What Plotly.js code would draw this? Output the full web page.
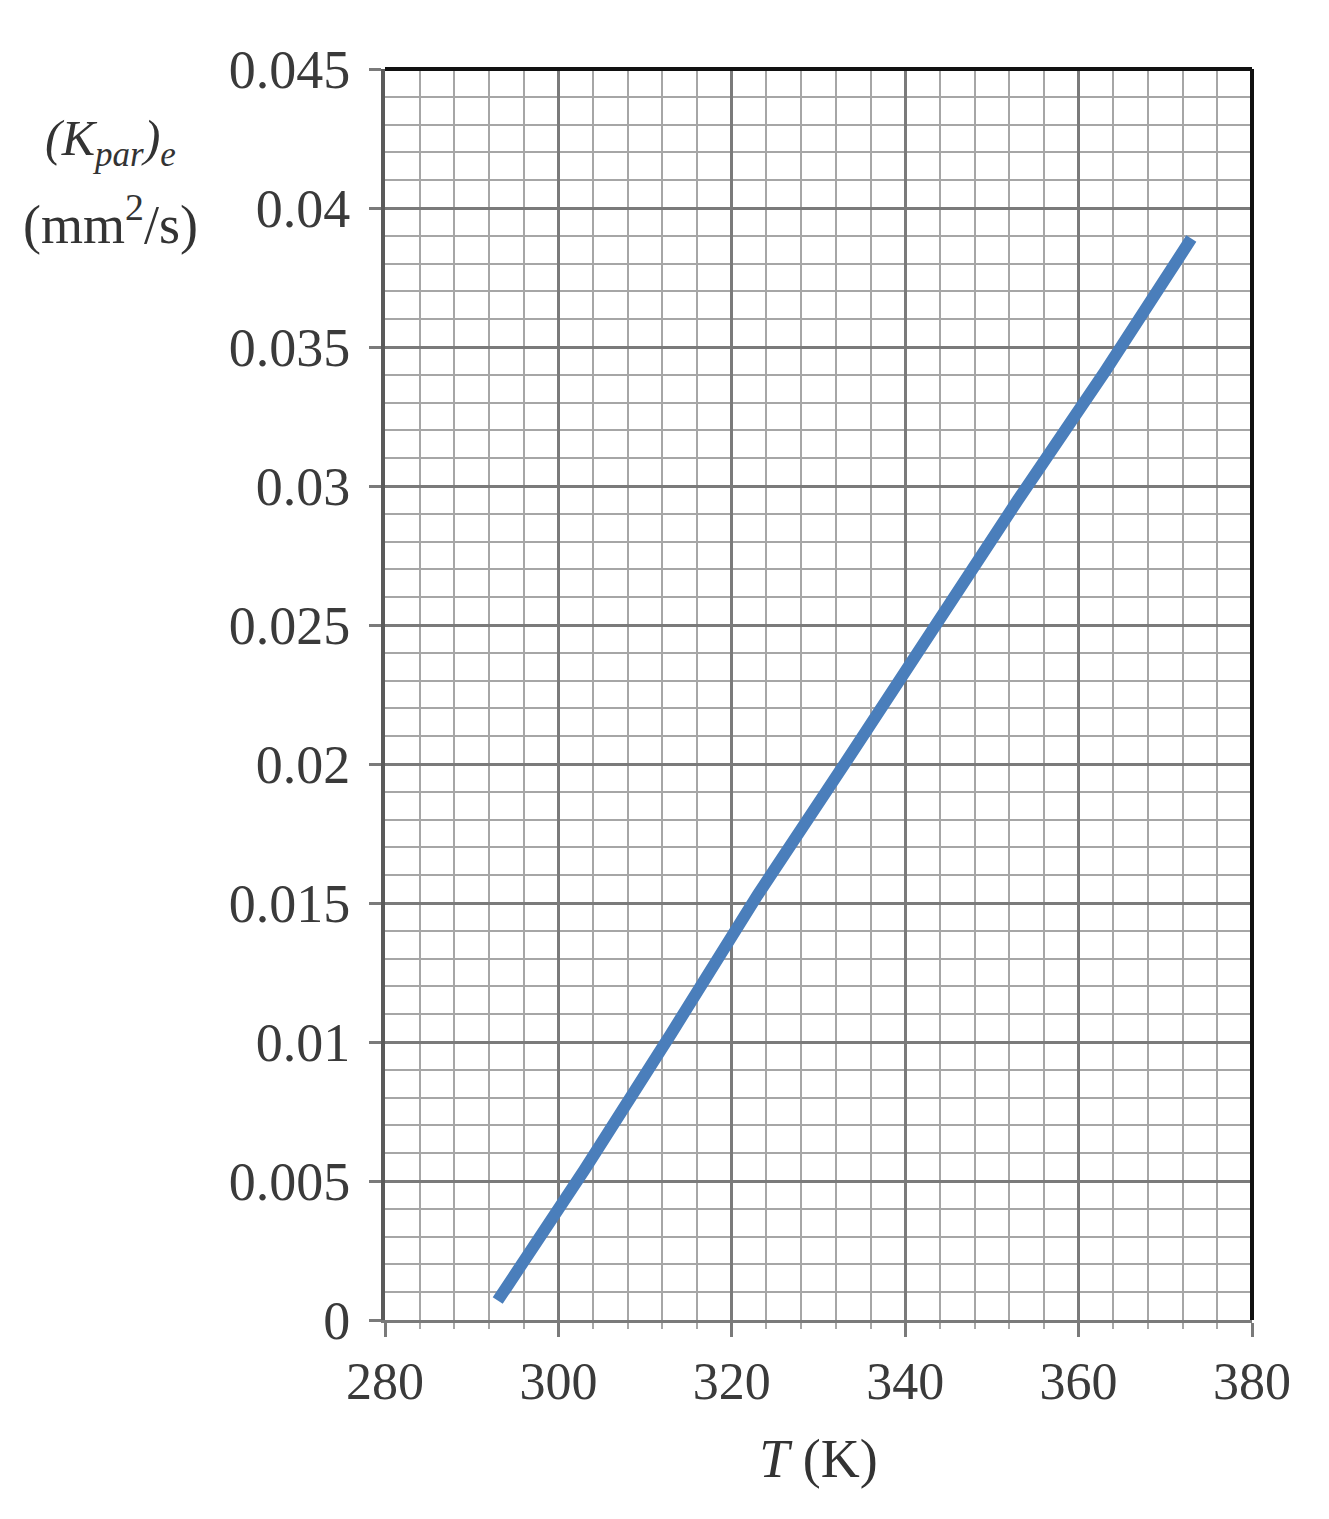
<!DOCTYPE html>
<html>
<head>
<meta charset="utf-8">
<script src="https://cdn.plot.ly/plotly-3.0.1.min.js"></script>
<style>html,body{margin:0;padding:0;background:#fff;}#chart{width:1329px;height:1519px;}</style>
</head>
<body>
<div id="chart"></div>
<script>
// Temperature (K)
const temperatureK = [293, 303, 313, 323, 333, 343, 353, 363, 373];
// (K_par)_e (mm^2/s)
const kparE = [0.0007, 0.0054, 0.0103, 0.0153, 0.0200, 0.0248, 0.0295, 0.0341, 0.0389];

const xTickVals = [280, 300, 320, 340, 360, 380];
const yTickVals = [0, 0.005, 0.01, 0.015, 0.02, 0.025, 0.03, 0.035, 0.04, 0.045];
const yTickText = ["0", "0.005", "0.01", "0.015", "0.02", "0.025", "0.03", "0.035", "0.04", "0.045"];

const serif = "Liberation Serif, Times New Roman, serif";

const trace = {
  x: temperatureK,
  y: kparE,
  type: "scatter",
  mode: "lines",
  line: {color: "#4A7EBB", width: 12},
  hoverinfo: "skip"
};

const layout = {
  width: 1329,
  height: 1519,
  margin: {l: 385, r: 77, t: 69, b: 199},
  paper_bgcolor: "#ffffff",
  plot_bgcolor: "#ffffff",
  showlegend: false,
  font: {family: serif, size: 52, color: "#333333"},
  xaxis: {
    range: [280, 380],
    tickvals: xTickVals,
    ticktext: xTickVals.map(String),
    showgrid: true,
    gridcolor: "#7a7a7a",
    gridwidth: 3,
    zeroline: false,
    showline: true,
    linecolor: "#7a7a7a",
    linewidth: 3,
    ticks: "outside",
    ticklen: 14,
    tickwidth: 3,
    tickcolor: "#7a7a7a",
    tickfont: {family: serif, size: 52, color: "#3a3a3a"},
    minor: {dtick: 4, showgrid: true, gridcolor: "#a6a6a6", gridwidth: 2, ticks: "outside", ticklen: 6, tickcolor: "#a6a6a6", tickwidth: 2},
    title: {text: "<i>T</i> (K)", font: {family: serif, size: 54, color: "#333333"}, standoff: 30}
  },
  yaxis: {
    range: [0, 0.045],
    tickvals: yTickVals,
    ticktext: yTickText,
    showgrid: true,
    gridcolor: "#7a7a7a",
    gridwidth: 3,
    zeroline: false,
    showline: true,
    linecolor: "#5a5a5a",
    linewidth: 4,
    ticks: "outside",
    ticklen: 12,
    tickwidth: 3,
    tickcolor: "#7a7a7a",
    ticklabelstandoff: 8,
    tickfont: {family: serif, size: 54, color: "#3a3a3a"},
    minor: {dtick: 0.001, showgrid: true, gridcolor: "#a6a6a6", gridwidth: 2}
  },
  shapes: [
    {type: "line", xref: "paper", yref: "paper", x0: 0, x1: 1, y0: 1, y1: 1, line: {color: "#111111", width: 4}},
    {type: "line", xref: "paper", yref: "paper", x0: 1, x1: 1, y0: 0, y1: 1, line: {color: "#111111", width: 4}}
  ],
  annotations: [
    {
      xref: "paper", yref: "paper",
      x: -0.317, y: 0.942,
      xanchor: "center", yanchor: "middle",
      showarrow: false,
      borderpad: 0,
      text: "<i>(K<sub>par</sub>)<sub>e</sub></i>",
      font: {family: serif, size: 50, color: "#333333"}
    },
    {
      xref: "paper", yref: "paper",
      x: -0.317, y: 0.879,
      xanchor: "center", yanchor: "middle",
      showarrow: false,
      borderpad: 0,
      text: "(mm<sup>2</sup>/s)",
      font: {family: serif, size: 54, color: "#333333"}
    }
  ]
};

Plotly.newPlot("chart", [trace], layout, {staticPlot: true, displayModeBar: false});
</script>
</body>
</html>
